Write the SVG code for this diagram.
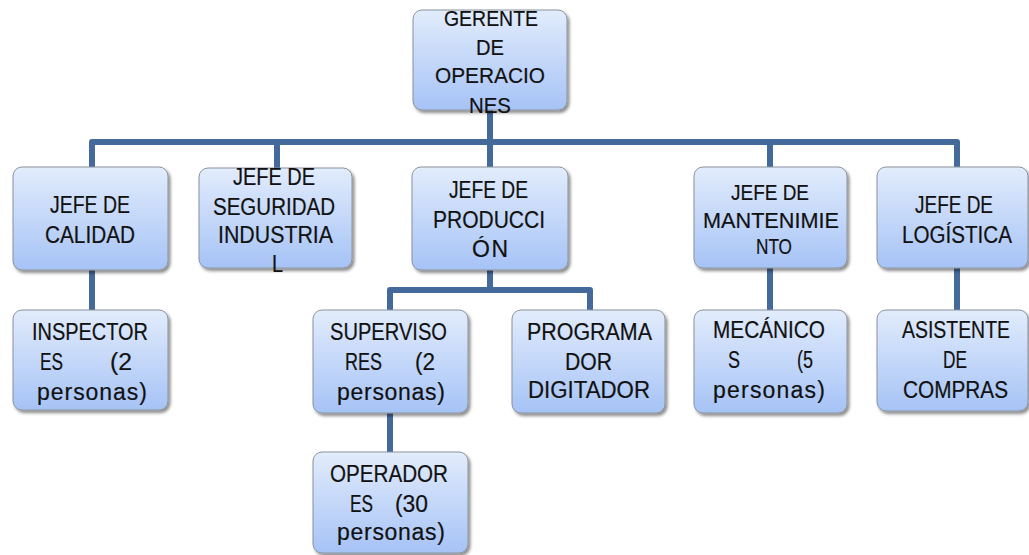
<svg xmlns="http://www.w3.org/2000/svg" width="1029" height="555" viewBox="0 0 1029 555">
<defs>
<linearGradient id="g" x1="0" y1="0" x2="0" y2="1">
<stop offset="0" stop-color="#e2ecfc"/>
<stop offset="1" stop-color="#a6c3f6"/>
</linearGradient>
<filter id="sh" x="-10%" y="-10%" width="130%" height="130%">
<feDropShadow dx="2" dy="2.5" stdDeviation="1.8" flood-color="#000" flood-opacity="0.45"/>
</filter>
</defs>
<style>
.box{fill:url(#g);stroke:#8a929c;stroke-width:1;filter:url(#sh)}
.t{font-family:"Liberation Sans",Arial,sans-serif;font-size:23px;fill:#111;stroke:#111;stroke-width:0.2}
.g20{font-size:22px}
.c{fill:none;stroke:#44699b;stroke-width:6;stroke-linejoin:round}
</style>
<rect width="1029" height="555" fill="#fff"/>
<g id="connectors">
<path class="c" d="M490,110 V167"/>
<path class="c" d="M92,167 V142 H957 V167"/>
<path class="c" d="M277,142 V168"/>
<path class="c" d="M770,142 V167"/>
<path class="c" d="M92,270 V310"/>
<path class="c" d="M490,270 V290"/>
<path class="c" d="M390,310 V290 H590 V310"/>
<path class="c" d="M390,413 V452"/>
<path class="c" d="M770,268 V310"/>
<path class="c" d="M957,268 V310"/>
</g>
<g id="gerente">
<rect class="box" x="413" y="10" width="154" height="100" rx="9"/>
<text class="t g20"><tspan x="444" y="26" textLength="94" lengthAdjust="spacingAndGlyphs">GERENTE</tspan><tspan x="476" y="55" textLength="28" lengthAdjust="spacingAndGlyphs">DE</tspan><tspan x="435" y="83" textLength="110" lengthAdjust="spacingAndGlyphs">OPERACIO</tspan><tspan x="469" y="113" textLength="42" lengthAdjust="spacingAndGlyphs">NES</tspan></text>
</g>
<g id="calidad">
<rect class="box" x="13" y="167" width="155" height="103" rx="9"/>
<text class="t"><tspan x="50" y="213" textLength="80" lengthAdjust="spacingAndGlyphs">JEFE DE</tspan><tspan x="45" y="243" textLength="90" lengthAdjust="spacingAndGlyphs">CALIDAD</tspan></text>
</g>
<g id="seguridad">
<rect class="box" x="199" y="168" width="153" height="100" rx="9"/>
<text class="t"><tspan x="233" y="185" textLength="82" lengthAdjust="spacingAndGlyphs">JEFE DE</tspan><tspan x="213" y="215" textLength="122" lengthAdjust="spacingAndGlyphs">SEGURIDAD</tspan><tspan x="218" y="243" textLength="115" lengthAdjust="spacingAndGlyphs">INDUSTRIA</tspan><tspan x="272" y="272" textLength="11" lengthAdjust="spacingAndGlyphs">L</tspan></text>
</g>
<g id="produccion">
<rect class="box" x="412" y="167" width="156" height="103" rx="9"/>
<text class="t"><tspan x="449" y="198" textLength="79" lengthAdjust="spacingAndGlyphs">JEFE DE</tspan><tspan x="433" y="228" textLength="112" lengthAdjust="spacingAndGlyphs">PRODUCCI</tspan><tspan x="472" y="257" textLength="36">ÓN</tspan></text>
</g>
<g id="mantenimiento">
<rect class="box" x="694" y="167" width="153" height="101" rx="9"/>
<text class="t g20"><tspan x="731" y="200" textLength="78" lengthAdjust="spacingAndGlyphs">JEFE DE</tspan><tspan x="703" y="228" textLength="136" lengthAdjust="spacingAndGlyphs">MANTENIMIE</tspan><tspan x="756" y="254" textLength="36" lengthAdjust="spacingAndGlyphs">NTO</tspan></text>
</g>
<g id="logistica">
<rect class="box" x="877" y="167" width="151" height="101" rx="9"/>
<text class="t"><tspan x="915" y="213" textLength="78" lengthAdjust="spacingAndGlyphs">JEFE DE</tspan><tspan x="902" y="243" textLength="110" lengthAdjust="spacingAndGlyphs">LOGÍSTICA</tspan></text>
</g>
<g id="inspectores">
<rect class="box" x="13" y="310" width="155" height="100" rx="9"/>
<text class="t"><tspan x="32" y="340" textLength="116" lengthAdjust="spacingAndGlyphs">INSPECTOR</tspan><tspan x="40" y="370" textLength="23" lengthAdjust="spacingAndGlyphs">ES</tspan><tspan x="110" y="370" textLength="22" lengthAdjust="spacingAndGlyphs">(2</tspan><tspan x="37" y="400" textLength="110">personas)</tspan></text>
</g>
<g id="supervisores">
<rect class="box" x="313" y="310" width="155" height="103" rx="9"/>
<text class="t"><tspan x="330" y="340" textLength="117" lengthAdjust="spacingAndGlyphs">SUPERVISO</tspan><tspan x="345" y="370" textLength="37" lengthAdjust="spacingAndGlyphs">RES</tspan><tspan x="415" y="370" textLength="20" lengthAdjust="spacingAndGlyphs">(2</tspan><tspan x="337" y="400" textLength="108">personas)</tspan></text>
</g>
<g id="programador">
<rect class="box" x="512" y="310" width="153" height="103" rx="9"/>
<text class="t"><tspan x="527" y="340" textLength="125" lengthAdjust="spacingAndGlyphs">PROGRAMA</tspan><tspan x="565" y="370" textLength="47" lengthAdjust="spacingAndGlyphs">DOR</tspan><tspan x="528" y="398" textLength="122" lengthAdjust="spacingAndGlyphs">DIGITADOR</tspan></text>
</g>
<g id="mecanicos">
<rect class="box" x="694" y="310" width="153" height="103" rx="9"/>
<text class="t"><tspan x="713" y="338" textLength="112" lengthAdjust="spacingAndGlyphs">MECÁNICO</tspan><tspan x="728" y="368" textLength="12" lengthAdjust="spacingAndGlyphs">S</tspan><tspan x="797" y="368" textLength="16" lengthAdjust="spacingAndGlyphs">(5</tspan><tspan x="713" y="398" textLength="112">personas)</tspan></text>
</g>
<g id="asistente">
<rect class="box" x="877" y="310" width="151" height="101" rx="9"/>
<text class="t"><tspan x="902" y="338" textLength="108" lengthAdjust="spacingAndGlyphs">ASISTENTE</tspan><tspan x="943" y="368" textLength="24" lengthAdjust="spacingAndGlyphs">DE</tspan><tspan x="903" y="398" textLength="105" lengthAdjust="spacingAndGlyphs">COMPRAS</tspan></text>
</g>
<g id="operadores">
<rect class="box" x="313" y="452" width="155" height="101" rx="9"/>
<text class="t"><tspan x="330" y="482" textLength="118" lengthAdjust="spacingAndGlyphs">OPERADOR</tspan><tspan x="350" y="512" textLength="23" lengthAdjust="spacingAndGlyphs">ES</tspan><tspan x="395" y="512" textLength="33" lengthAdjust="spacingAndGlyphs">(30</tspan><tspan x="337" y="540" textLength="108">personas)</tspan></text>
</g>
</svg>
